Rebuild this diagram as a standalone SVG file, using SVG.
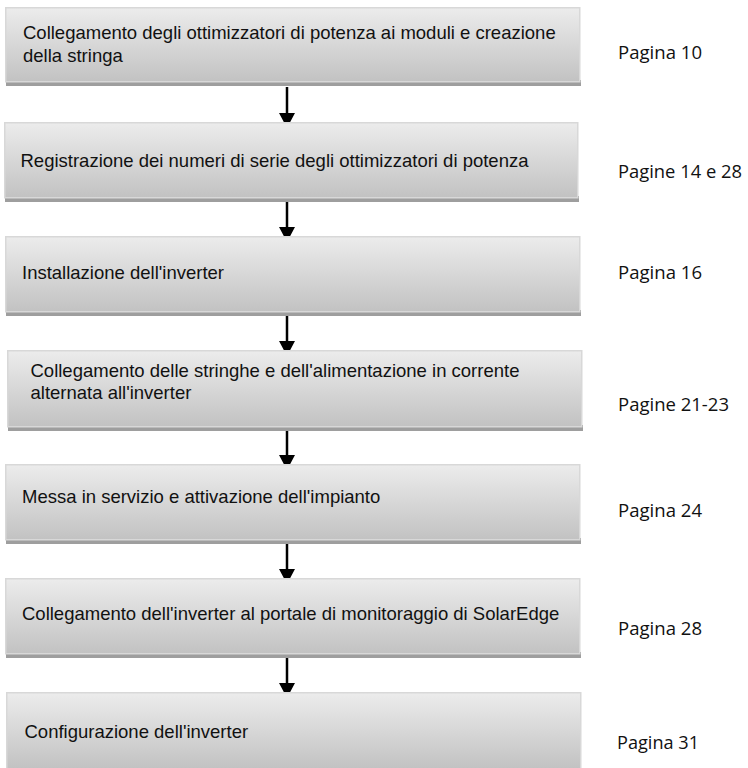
<svg xmlns="http://www.w3.org/2000/svg" width="748" height="768" viewBox="0 0 748 768">
<defs>
<linearGradient id="g" x1="0" y1="0" x2="0" y2="1">
<stop offset="0" stop-color="#ececec"/>
<stop offset="1" stop-color="#c2c2c2"/>
</linearGradient>
</defs>
<style>
.box{fill:url(#g);stroke:#d8d8d8;stroke-width:1.5}
.sh{fill:#9e9e9e}
.t{font-family:"Liberation Sans",Arial,sans-serif;font-size:18.5px;fill:#111}
.p{font-family:"Open Sans","Noto Sans",sans-serif;font-size:18px;fill:#111}
.c{stroke:#000;stroke-width:2.5;fill:none}
</style>
<g id="connectors">
<line class="c" x1="287" y1="87" x2="287" y2="113"/>
<path d="M279,113 L295,113 L287,128 Z"/>
<line class="c" x1="287" y1="202" x2="287" y2="227"/>
<path d="M279,227 L295,227 L287,242 Z"/>
<line class="c" x1="287" y1="316" x2="287" y2="341"/>
<path d="M279,341 L295,341 L287,356 Z"/>
<line class="c" x1="287" y1="431" x2="287" y2="455"/>
<path d="M279,455 L295,455 L287,470 Z"/>
<line class="c" x1="287" y1="544" x2="287" y2="569"/>
<path d="M279,569 L295,569 L287,584 Z"/>
<line class="c" x1="287" y1="658" x2="287" y2="683"/>
<path d="M279,683 L295,683 L287,698 Z"/>
</g>
<g id="n1">
<rect class="sh" x="6" y="80" width="575" height="6"/>
<rect class="box" x="5.75" y="7.75" width="574" height="74"/>
<text class="t" x="23" y="39">Collegamento degli ottimizzatori di potenza ai moduli e creazione</text>
<text class="t" x="23" y="62">della stringa</text>
<text class="p" x="618" y="59" textLength="84" lengthAdjust="spacingAndGlyphs">Pagina 10</text>
</g>
<g id="n2">
<rect class="sh" x="5" y="196" width="574" height="6"/>
<rect class="box" x="4.75" y="122.75" width="573" height="75"/>
<text class="t" x="20.5" y="167">Registrazione dei numeri di serie degli ottimizzatori di potenza</text>
<text class="p" x="618" y="178" textLength="124" lengthAdjust="spacingAndGlyphs">Pagine 14 e 28</text>
</g>
<g id="n3">
<rect class="sh" x="6" y="310" width="575" height="6"/>
<rect class="box" x="5.75" y="236.75" width="574" height="75"/>
<text class="t" x="22" y="279">Installazione dell'inverter</text>
<text class="p" x="618" y="279" textLength="84" lengthAdjust="spacingAndGlyphs">Pagina 16</text>
</g>
<g id="n4">
<rect class="sh" x="8" y="425" width="575" height="6"/>
<rect class="box" x="7.75" y="350.75" width="574" height="76"/>
<text class="t" x="30.5" y="377">Collegamento delle stringhe e dell'alimentazione in corrente</text>
<text class="t" x="30.5" y="399">alternata all'inverter</text>
<text class="p" x="618" y="411" textLength="111" lengthAdjust="spacingAndGlyphs">Pagine 21-23</text>
</g>
<g id="n5">
<rect class="sh" x="6" y="538" width="575" height="6"/>
<rect class="box" x="5.75" y="464.75" width="574" height="75"/>
<text class="t" x="22" y="503">Messa in servizio e attivazione dell'impianto</text>
<text class="p" x="618" y="517" textLength="84" lengthAdjust="spacingAndGlyphs">Pagina 24</text>
</g>
<g id="n6">
<rect class="sh" x="6" y="652" width="575" height="6"/>
<rect class="box" x="5.75" y="578.75" width="574" height="75"/>
<text class="t" x="22" y="620">Collegamento dell'inverter al portale di monitoraggio di SolarEdge</text>
<text class="p" x="618" y="635" textLength="84" lengthAdjust="spacingAndGlyphs">Pagina 28</text>
</g>
<g id="n7">
<rect class="box" x="6.75" y="692.75" width="574" height="76"/>
<text class="t" x="24.5" y="738">Configurazione dell'inverter</text>
<text class="p" x="617" y="749" textLength="82" lengthAdjust="spacingAndGlyphs">Pagina 31</text>
</g>
</svg>
